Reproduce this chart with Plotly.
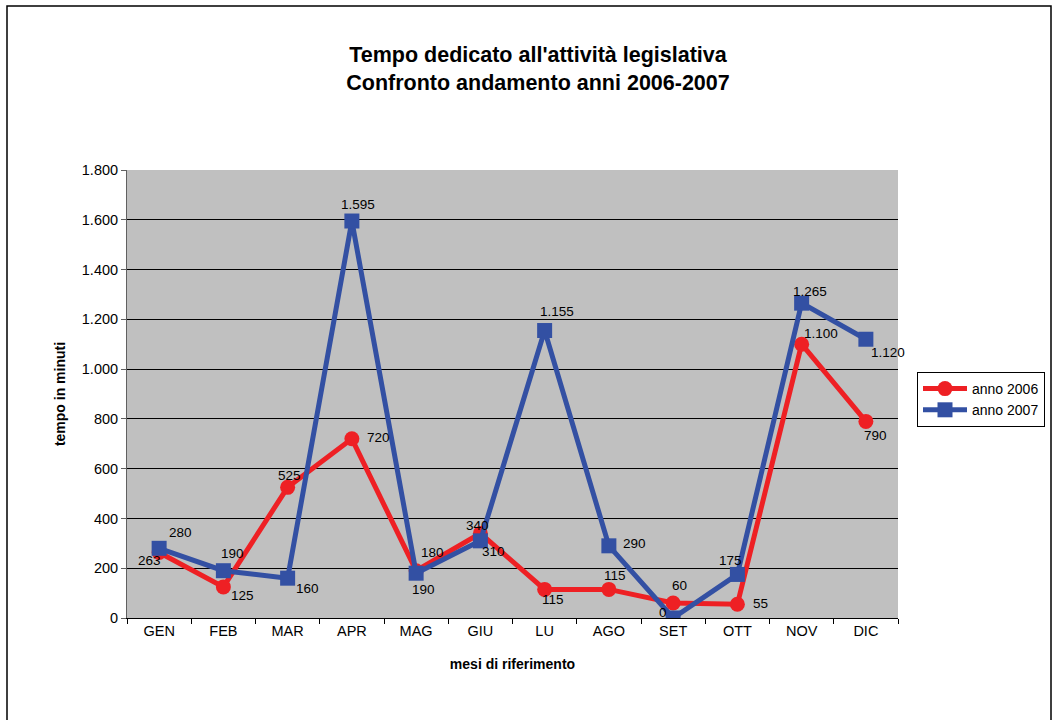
import plotly.graph_objects as go

months = ["GEN", "FEB", "MAR", "APR", "MAG", "GIU", "LU", "AGO", "SET", "OTT", "NOV", "DIC"]
anno_2006 = [263, 125, 525, 720, 190, 340, 115, 115, 60, 55, 1100, 790]
anno_2007 = [280, 190, 160, 1595, 180, 310, 1155, 290, 0, 175, 1265, 1120]

# label offsets (pixels: dx, dy with +dy = up) - style only
off_2006 = [(-10, -8), (19, -9), (2, 12), (27, 1), (7, -19), (-3, 8),
            (8, -10), (6, 14), (6, 18), (23, 1), (19, 11), (10, -14)]
off_2007 = [(21, 16), (9, 17), (20, -10), (6, 17), (16, 21), (13, -11),
            (12, 19), (26, 2), (-10, 6), (-7, 14), (8, 12), (22, -13)]

RED = "#EE2024"
BLUE = "#3350A3"
FONT = "Liberation Sans, Arial, sans-serif"

def fmt(v):
    return f"{v:,}".replace(",", ".")

fig = go.Figure()
fig.add_trace(go.Scatter(x=months, y=anno_2006, name="anno 2006", mode="lines+markers",
                         line=dict(color=RED, width=5),
                         marker=dict(symbol="circle", size=15, color=RED)))
fig.add_trace(go.Scatter(x=months, y=anno_2007, name="anno 2007", mode="lines+markers",
                         line=dict(color=BLUE, width=5),
                         marker=dict(symbol="square", size=15, color=BLUE)))

ann = []
for vals, offs in ((anno_2006, off_2006), (anno_2007, off_2007)):
    for m, v, (dx, dy) in zip(months, vals, offs):
        ann.append(dict(x=m, y=v, xref="x", yref="y", text=fmt(v), showarrow=False,
                        xshift=dx, yshift=dy, font=dict(family=FONT, size=13.5, color="black")))

fig.update_layout(
    width=1056, height=720,
    margin=dict(l=127, r=158, t=170, b=102, autoexpand=False),
    paper_bgcolor="white", plot_bgcolor="#C0C0C0",
    separators=",.",
    font=dict(family=FONT, size=14, color="black"),
    title=dict(text="<b>Tempo dedicato all'attività legislativa<br>Confronto andamento anni 2006-2007</b>",
               x=538/1056, xref="container", xanchor="center",
               y=1 - 62/720, yref="container", yanchor="middle",
               font=dict(family=FONT, size=21.5, color="black")),
    xaxis=dict(type="category", range=[-0.5, 11.5], tickson="boundaries", ticks="outside", ticklen=5,
               tickcolor="black", showline=True, linecolor="black", linewidth=1,
               showgrid=False, zeroline=False,
               title=dict(text="<b>mesi di riferimento</b>", font=dict(size=14), standoff=20),
               tickfont=dict(size=14.5)),
    yaxis=dict(range=[0, 1800], dtick=200, tickformat=",", ticks="outside", ticklen=5,
               tickcolor="#606060", showline=True, linecolor="#606060", linewidth=1,
               gridcolor="black", gridwidth=1, zeroline=False,
               title=dict(text="<b>tempo in minuti</b>", font=dict(size=14), standoff=12),
               tickfont=dict(size=14.5)),
    legend=dict(x=(917-127)/771, xanchor="left", y=(618-372)/448, yanchor="top",
                bgcolor="white", bordercolor="black", borderwidth=1,
                font=dict(size=14), tracegroupgap=0, itemwidth=44),
    showlegend=True,
    annotations=ann,
    shapes=[dict(type="rect", xref="paper", yref="paper",
                 x0=(7-127)/771, x1=(1051-127)/771, y0=(618-740)/448, y1=(618-6)/448,
                 line=dict(color="black", width=1.5), fillcolor="rgba(0,0,0,0)", layer="below")],
)

fig.write_html("out.html")
